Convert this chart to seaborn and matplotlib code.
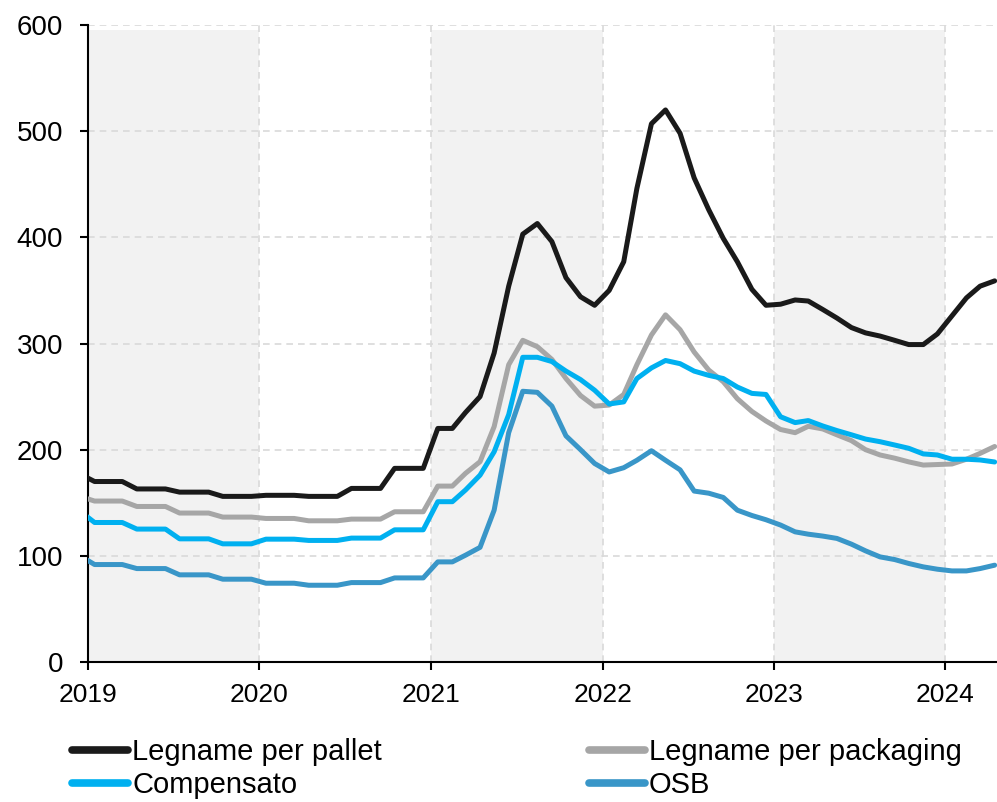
import numpy as np
import pandas as pd
import matplotlib
matplotlib.use("Agg")
import matplotlib.pyplot as plt
import matplotlib.dates as mdates
from matplotlib.lines import Line2D
import seaborn as sns

# monthly observations (mid-month), Dec 2018 .. Apr 2024
months = pd.date_range("2018-12-01", "2024-04-01", freq="MS") + pd.Timedelta(days=14)

series_names = ["Legname per pallet", "Legname per packaging", "Compensato", "OSB"]
colors = ["#1a1a1a", "#a6a6a6", "#00b0f0", "#3996c8"]

pallet = [177,
          170, 170, 170, 163, 163, 163, 160, 160, 160, 156, 156, 156,
          157, 157, 157, 156, 156, 156, 163.5, 163.5, 163.5, 182.4, 182.4, 182.4,
          220, 220, 235, 250, 291, 354, 403, 413, 396, 362, 344, 336,
          350, 377, 446, 507, 520, 498, 456, 426, 399, 377, 351, 336,
          337, 341, 340, 332, 324, 315, 310, 307, 303, 299, 299, 309,
          326, 343, 354, 359]
packaging = [156,
             151.6, 151.6, 151.6, 146.5, 146.5, 146.5, 140.3, 140.3, 140.3, 136.5, 136.5, 136.5,
             135.2, 135.2, 135.2, 133, 133, 133, 134.6, 134.6, 134.6, 141.5, 141.5, 141.5,
             165.7, 165.7, 177.7, 188.7, 221.7, 280, 303, 297, 285, 267, 251, 241,
             242, 252, 280, 308, 327, 313, 292, 275, 264, 248, 236, 227,
             219, 216, 222, 219.5, 214, 208.5, 200, 195, 192, 188.5, 185.5, 186,
             186.5, 191, 196.5, 203]
compensato = [142,
              131.4, 131.4, 131.4, 125.2, 125.2, 125.2, 116, 116, 116, 111.3, 111.3, 111.3,
              115.7, 115.7, 115.7, 114.5, 114.5, 114.5, 116.7, 116.7, 116.7, 124.5, 124.5, 124.5,
              151, 151, 162, 176, 198, 233, 287, 287, 283, 274, 266, 256,
              243, 245, 267, 277, 284, 281, 274, 270, 267, 259, 253, 252,
              231, 225.5, 227.4, 222.3, 218, 214, 210, 207.5, 204.4, 201.3, 196, 195,
              191, 191, 190.3, 188.4]
osb = [100,
       91.8, 91.8, 91.8, 88, 88, 88, 82.1, 82.1, 82.1, 78, 78, 78,
       74.2, 74.2, 74.2, 72.3, 72.3, 72.3, 74.8, 74.8, 74.8, 79.2, 79.2, 79.2,
       94.3, 94.3, 100.6, 108, 143, 216, 255, 254, 241, 213, 200, 187,
       179, 183, 190, 199, 190, 181, 161, 159, 155, 143, 138, 134,
       129, 122.6, 120.4, 118.6, 116.4, 111, 104.7, 99, 96.5, 92.8, 89.6, 87.4,
       85.8, 85.8, 88, 91.2]

yticks = [0, 100, 200, 300, 400, 500, 600]
shaded_years = [(2019, 2020), (2021, 2022), (2023, 2024)]

df = pd.DataFrame({
    "date": np.tile(months, 4),
    "value": np.concatenate([pallet, packaging, compensato, osb]),
    "series": np.repeat(series_names, len(months)),
})

sns.set_theme(style="white")
plt.rcParams["font.family"] = ["Liberation Sans", "DejaVu Sans"]
plt.rcParams["text.color"] = "#000000"

fig = plt.figure(figsize=(9.97, 8.02), dpi=100)
ax = fig.add_axes([88 / 997, 140 / 802, 909 / 997, 637 / 802])

for y0, y1 in shaded_years:
    ax.axvspan(pd.Timestamp(f"{y0}-01-01"), pd.Timestamp(f"{y1}-01-01"),
               ymin=0, ymax=0.992, color="#f2f2f2", lw=0, zorder=0)

sns.lineplot(data=df, x="date", y="value", hue="series", hue_order=series_names,
             palette=dict(zip(series_names, colors)), linewidth=3.6, ax=ax,
             legend=False, zorder=3)

ax.set_xlim(pd.Timestamp("2019-01-01"), pd.Timestamp("2024-04-20"))
ax.set_ylim(0, 600)
ax.set_yticks(yticks)
ax.xaxis.set_major_locator(mdates.YearLocator())
ax.xaxis.set_major_formatter(mdates.DateFormatter("%Y"))
ax.set_xlabel("")
ax.set_ylabel("")

ax.set_axisbelow(True)
ax.grid(True, linestyle=(0, (4, 3)), color="#d9d9d9", linewidth=1.2)

for s in ["top", "right"]:
    ax.spines[s].set_visible(False)
for s in ["left", "bottom"]:
    ax.spines[s].set_color("#000000")
    ax.spines[s].set_linewidth(1.5)

ax.tick_params(axis="both", direction="out", length=6, width=1.5, colors="#000000",
               bottom=True, left=True)
ax.tick_params(axis="y", pad=12, labelsize=20)
ax.tick_params(axis="x", pad=9, labelsize=19)

handles = [Line2D([0], [0], color=c, lw=5.5) for c in colors]
order = [0, 2, 1, 3]
fig.legend([handles[i] for i in order], [series_names[i] for i in order],
           loc="upper left", bbox_to_anchor=(72 / 997, 1 - 738 / 802),
           ncol=2, frameon=False, fontsize=21, handlelength=1.92, handletextpad=0.14,
           columnspacing=7.1, labelspacing=0.18, borderpad=0, borderaxespad=0,
           labelcolor="#000000")

fig.savefig("out.png", dpi=100)
